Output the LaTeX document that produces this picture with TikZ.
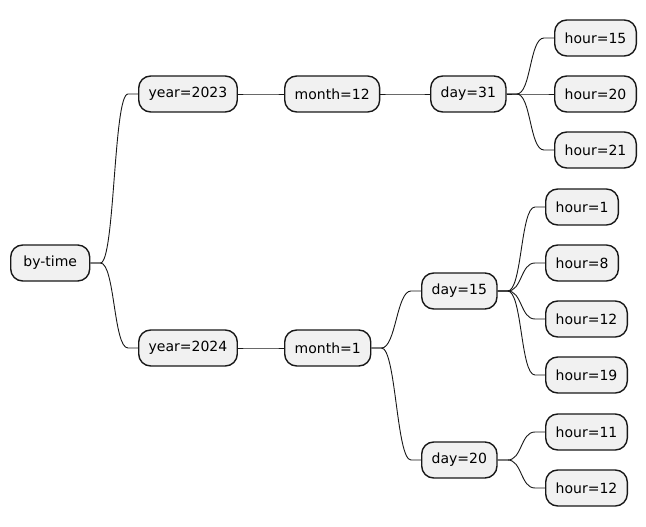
\documentclass[tikz,border=0pt]{standalone}
\usepackage{fontspec}
\setmainfont{DejaVu Sans}
\usepackage{tikz}
\usetikzlibrary{positioning}
\definecolor{boxfill}{HTML}{F1F1F1}
\definecolor{boxline}{HTML}{181818}
\tikzset{
    %Define style for boxes
    topic/.style={
           rectangle,
           rounded corners=12pt,
           draw=boxline, line width=1.4pt,
           fill=boxfill,
           minimum height=36pt,
           inner xsep=10pt,
           font=\fontsize{14pt}{16pt}\selectfont,
           anchor=west},
    % Define branch style
    branch/.style={
           draw=boxline,
           line width=0.9pt}
}
\begin{document}
\begin{tikzpicture}[x=1pt,y=-1pt]
\useasboundingbox (0,0) rectangle (646,527);
 %nodes
\node[topic, minimum width=79pt] (root) at (10,263) {by-time};
\node[topic] (y23) at (138,94) {year=2023};
\node[topic] (m12) at (284,94) {month=12};
\node[topic] (d31) at (430,94) {day=31};
\node[topic] (h15) at (554,38) {hour=15};
\node[topic] (h20) at (554,94) {hour=20};
\node[topic] (h21) at (554,150) {hour=21};
\node[topic] (y24) at (138,348) {year=2024};
\node[topic] (m1) at (284,348) {month=1};
\node[topic] (d15) at (421,291) {day=15};
\node[topic] (h1) at (545,207) {hour=1};
\node[topic] (h8) at (545,263) {hour=8};
\node[topic] (h12a) at (545,319) {hour=12};
\node[topic] (h19) at (545,375) {hour=19};
\node[topic] (d20) at (421,460) {day=20};
\node[topic] (h11) at (545,432) {hour=11};
\node[topic] (h12b) at (545,488) {hour=12};
 %branches
\foreach \a/\b in {root/y23,root/y24,y23/m12,m12/d31,d31/h15,d31/h20,d31/h21,
    y24/m1,m1/d15,m1/d20,d15/h1,d15/h8,d15/h12a,d15/h19,d20/h11,d20/h12b}
  \draw[branch] (\a.east) -- ([xshift=10pt]\a.east)
    .. controls ([xshift=24.5pt]\a.east) and ([xshift=-24.5pt]\b.west)
    .. ([xshift=-10pt]\b.west) -- (\b.west);
\end{tikzpicture}
\end{document}
